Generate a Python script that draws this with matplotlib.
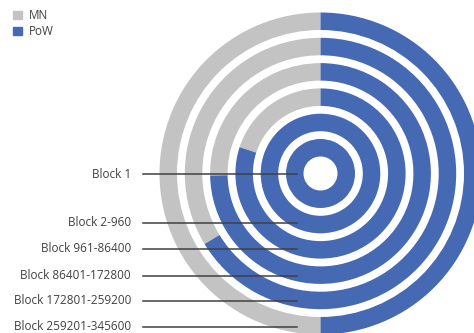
import matplotlib.pyplot as plt
from matplotlib.patches import Patch

# block ranges, innermost ring first
blocks = ["Block 1", "Block 2-960", "Block 961-86400", "Block 86401-172800",
          "Block 172801-259200", "Block 259201-345600"]
mn = [0, 0, 20.0, 25.3, 33.7, 50.0]
pow_ = [100, 100, 80.0, 74.7, 66.3, 50.0]

W, H = 474, 333
mn_color = "#C3C3C3"
pow_color = "#4669B4"
text_color = "#404040"

plt.rcParams["font.family"] = ["Open Sans", "DejaVu Sans"]

fig = plt.figure(figsize=(W / 100, H / 100), dpi=100)
ax = fig.add_axes([0, 0, 1, 1])

cx, cy = 320.5, H - 173.5
hole, ring_w, gap = 17, 17.5, 7.8

for i in range(len(blocks)):
    outer = hole + (i + 1) * ring_w + i * gap
    ax.pie([mn[i], pow_[i]], colors=[mn_color, pow_color], startangle=90,
           counterclock=True, radius=outer, center=(cx, cy),
           wedgeprops=dict(width=ring_w, linewidth=0))

# leader lines and labels (pixel rows from the top)
label_rows = [174, 223, 249, 275.5, 301, 327]
for name, row in zip(blocks, label_rows):
    y = H - row
    ax.plot([143, 297], [y, y], color=text_color, lw=1.1)
    ax.text(131, y, name, ha="right", va="center", fontsize=8.5, color=text_color)

handles = [Patch(color=mn_color), Patch(color=pow_color)]
ax.legend(handles, ["MN", "PoW"], loc="upper left", frameon=False,
          bbox_to_anchor=(13 / W, 1 - 9 / H), borderpad=0, borderaxespad=0,
          handlelength=0.72, handleheight=0.72, handletextpad=0.6,
          labelspacing=0.25, prop={"size": 8.5}, labelcolor=text_color)

ax.set_xlim(0, W)
ax.set_ylim(0, H)
ax.set_aspect("equal")
ax.axis("off")

plt.savefig("out.png", dpi=100)
